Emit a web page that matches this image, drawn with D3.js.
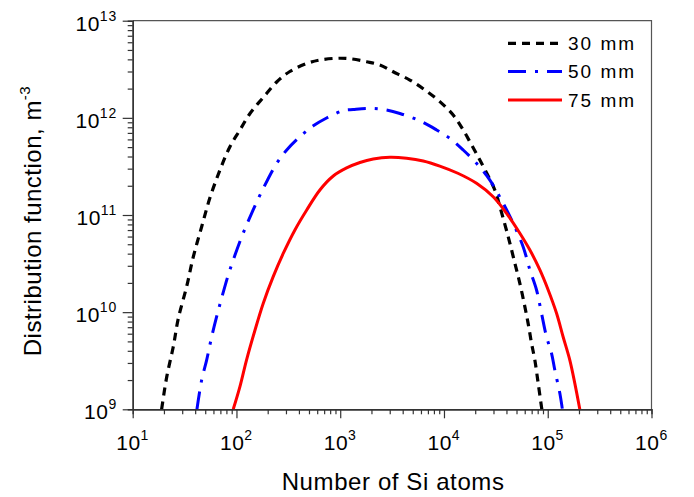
<!DOCTYPE html>
<html>
<head>
<meta charset="utf-8">
<script src="https://cdn.jsdelivr.net/npm/d3@7"></script>
<style>
  html, body { margin: 0; padding: 0; background: #fff; }
  svg { display: block; }
  text { font-family: "Liberation Sans", Arial, sans-serif; fill: #000; }
</style>
</head>
<body>
<svg id="chart" width="694" height="497"></svg>
<script>
// Cluster size distributions at three distances
const seriesNames = ["30 mm", "50 mm", "75 mm"];

const atoms30 = [19, 21.3, 24.6, 27.5, 33.1, 38.4, 46.2, 55.6, 69.3, 86.5, 108, 135, 181, 244, 327, 474, 637, 923, 1240, 1795, 2410, 3240, 4690, 6540, 9120, 12270, 15320, 18460, 22180, 30900, 34570, 41570, 48240, 53850, 60150, 64700, 69800, 75100, 80900, 87700];
const dist30 = [1.0e9, 2.17e9, 4.4e9, 8.6e9, 1.83e10, 3.72e10, 7.58e10, 1.51e11, 2.9e11, 5.05e11, 7.5e11, 1.11e12, 1.62e12, 2.34e12, 3.0e12, 3.62e12, 3.94e12, 4.1e12, 4.06e12, 3.78e12, 3.5e12, 2.98e12, 2.45e12, 1.94e12, 1.47e12, 1.07e12, 7.5e11, 5.26e11, 3.68e11, 1.81e11, 1.22e11, 5.98e10, 3.18e10, 1.98e10, 1.14e10, 7.67e9, 4.78e9, 3.21e9, 1.85e9, 1.0e9];

const atoms50 = [41.6, 46.2, 51.6, 57.7, 64.4, 71.9, 83.3, 96.8, 116, 140, 175, 244, 305, 409, 550, 739, 1070, 1335, 1862, 2596, 3760, 5860, 8490, 11400, 15320, 20600, 27700, 37200, 46400, 57900, 67300, 78000, 87100, 97300, 108800, 117000, 130800, 138400];
const dist50 = [1.0e9, 2.0e9, 3.21e9, 5.58e9, 8.97e9, 1.39e10, 2.41e10, 3.87e10, 6.49e10, 1.04e11, 1.74e11, 3.4e11, 4.67e11, 6.4e11, 8.28e11, 9.96e11, 1.19e12, 1.22e12, 1.25e12, 1.22e12, 1.11e12, 9.3e11, 7.5e11, 6.15e11, 4.67e11, 3.4e11, 2.29e11, 1.32e11, 8.22e10, 4.72e10, 2.72e10, 1.69e10, 9.73e9, 5.58e9, 3.77e9, 2.54e9, 1.46e9, 1.0e9];

const atoms75 = [93.1, 108, 125, 151, 181, 226, 283, 366, 474, 637, 857, 1153, 1549, 2080, 3013, 4365, 6310, 9120, 13600, 20600, 29800, 40100, 53850, 67300, 84000, 101000, 121600, 140600, 163200, 182400, 203700];
const dist75 = [1.0e9, 1.71e9, 3.21e9, 6.55e9, 1.23e10, 2.32e10, 4.04e10, 7.02e10, 1.12e11, 1.81e11, 2.52e11, 3.05e11, 3.47e11, 3.77e11, 3.93e11, 3.84e11, 3.6e11, 3.19e11, 2.69e11, 2.12e11, 1.54e11, 1.04e11, 6.49e10, 4.36e10, 2.72e10, 1.69e10, 9.73e9, 5.58e9, 3.21e9, 1.85e9, 1.0e9];

// Axis decades (tick label exponents)
const xExponents = [1, 2, 3, 4, 5, 6];
const yExponents = [9, 10, 11, 12, 13];

const xTitle = "Number of Si atoms";
const yTitle = "Distribution function, m";
const yTitleSup = "-3";

// ---- layout ----
const plot = { left: 132.7, right: 651.5, top: 20.7, bottom: 409.3 };
const svg = d3.select("#chart");

const x = d3.scaleLog().domain([1e1, 1e6]).range([plot.left, plot.right]);
const y = d3.scaleLog().domain([1e9, 1e13]).range([plot.bottom, plot.top]);

const styles = [
  { color: "#000000", dash: "8,6", width: 3.2 },
  { color: "#0000ff", dash: "18,9,3,9", width: 3 },
  { color: "#ff0000", dash: null, width: 3 }
];

const series = [
  atoms30.map((a, i) => [a, dist30[i]]),
  atoms50.map((a, i) => [a, dist50[i]]),
  atoms75.map((a, i) => [a, dist75[i]])
];

// clip region for curves
svg.append("defs").append("clipPath").attr("id", "plotClip")
  .append("rect")
  .attr("x", plot.left).attr("y", plot.top)
  .attr("width", plot.right - plot.left).attr("height", plot.bottom - plot.top);

// frame (top and right edges)
svg.append("path")
  .attr("d", `M${plot.left},${plot.top}H${plot.right}V${plot.bottom}`)
  .attr("fill", "none").attr("stroke", "#555").attr("stroke-width", 1.2);

// minor tick values
function minors(lo, hi) {
  const out = [];
  for (let e = lo; e < hi; e++) for (let k = 2; k <= 9; k++) out.push(k * Math.pow(10, e));
  return out;
}
const xMajor = xExponents.map(e => Math.pow(10, e));
const yMajor = yExponents.map(e => Math.pow(10, e));

const axisColor = "#333";
function styleAxis(g) {
  g.select(".domain").attr("stroke", axisColor).attr("stroke-width", 1.4);
  g.selectAll(".tick line").attr("stroke", axisColor).attr("stroke-width", 1.2);
  g.selectAll(".tick text").remove();
}

// x axis
svg.append("g").attr("transform", `translate(0,${plot.bottom})`)
  .call(d3.axisBottom(x).tickValues(minors(1, 6)).tickSize(5).tickFormat(""))
  .call(styleAxis);
svg.append("g").attr("transform", `translate(0,${plot.bottom})`)
  .call(d3.axisBottom(x).tickValues(xMajor).tickSize(9).tickSizeOuter(0).tickFormat(""))
  .call(styleAxis);

// y axis
svg.append("g").attr("transform", `translate(${plot.left},0)`)
  .call(d3.axisLeft(y).tickValues(minors(9, 13)).tickSize(5).tickFormat(""))
  .call(styleAxis);
svg.append("g").attr("transform", `translate(${plot.left},0)`)
  .call(d3.axisLeft(y).tickValues(yMajor).tickSize(10).tickSizeOuter(0).tickFormat(""))
  .call(styleAxis);

// power-of-ten tick labels
function powLabel(sel, e) {
  sel.append("tspan").text("10").style("font-size", "21px").attr("letter-spacing", "0.5px");
  sel.append("tspan").text(e).style("font-size", "14px").attr("dy", "-10").attr("letter-spacing", "0.8px");
}
xExponents.forEach(e => {
  const t = svg.append("text")
    .attr("x", x(Math.pow(10, e)))
    .attr("y", 450)
    .attr("text-anchor", "middle");
  powLabel(t, e);
});
yExponents.forEach(e => {
  const t = svg.append("text")
    .attr("x", 117)
    .attr("y", y(Math.pow(10, e)) + 10)
    .attr("text-anchor", "end");
  powLabel(t, e);
});

// axis titles
svg.append("text")
  .attr("x", (plot.left + plot.right) / 2 + 1)
  .attr("y", 490)
  .attr("text-anchor", "middle")
  .style("font-size", "24px")
  .attr("letter-spacing", "0.6px")
  .text(xTitle);

const yt = svg.append("text")
  .attr("transform", `translate(41,221) rotate(-90)`)
  .attr("text-anchor", "middle")
  .style("font-size", "24px")
  .attr("letter-spacing", "0.5px");
yt.append("tspan").text(yTitle);
yt.append("tspan").text(yTitleSup).style("font-size", "15px").attr("dy", "-11");

// curves
const line = d3.line()
  .x(d => x(d[0]))
  .y(d => y(d[1]))
  .curve(d3.curveCatmullRom.alpha(0.5));

const curves = svg.append("g").attr("clip-path", "url(#plotClip)");
series.forEach((pts, i) => {
  curves.append("path")
    .datum(pts)
    .attr("d", line)
    .attr("fill", "none")
    .attr("stroke", styles[i].color)
    .attr("stroke-width", styles[i].width)
    .attr("stroke-dasharray", styles[i].dash);
});

// legend
const legend = svg.append("g");
const rowY = [43.3, 71.5, 100];
seriesNames.forEach((name, i) => {
  legend.append("line")
    .attr("x1", 508).attr("x2", 562)
    .attr("y1", rowY[i]).attr("y2", rowY[i])
    .attr("stroke", styles[i].color)
    .attr("stroke-width", styles[i].width)
    .attr("stroke-dasharray", styles[i].dash);
  legend.append("text")
    .attr("x", 568).attr("y", rowY[i] + 6.8)
    .style("font-size", "19px")
    .attr("letter-spacing", "2px")
    .text(name);
});
</script>
</body>
</html>
